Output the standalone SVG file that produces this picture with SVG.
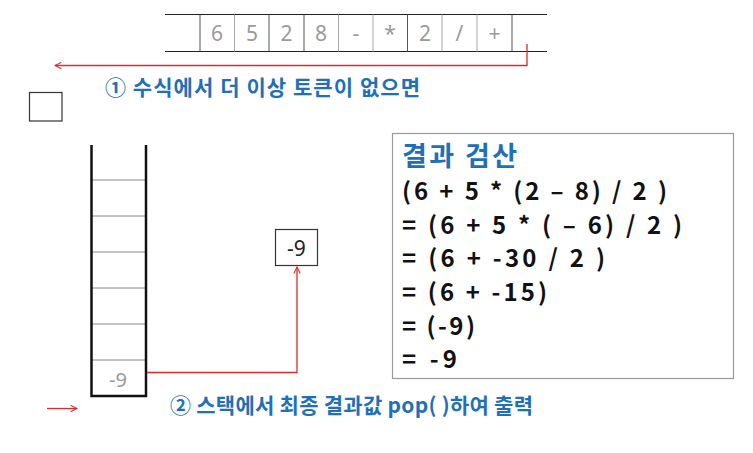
<svg xmlns="http://www.w3.org/2000/svg" width="753" height="453" viewBox="0 0 753 453">
<style>
.tok{font-family:"Noto Sans","DejaVu Sans",sans-serif;font-size:21px;fill:#9a9a9a;text-anchor:middle}
.dk{stroke:#555;stroke-width:1}
.lt{stroke:#aaa;stroke-width:1}
.blue{font-family:"Noto Sans CJK KR","Noto Sans",sans-serif;font-weight:bold;fill:#1f70b8}
.eq{font-family:"Noto Sans CJK KR","Noto Sans",sans-serif;font-weight:bold;font-size:24px;fill:#111}
.red{stroke:#e0282e;stroke-width:1.3;fill:none}
</style>
<defs>
<marker id="ah" viewBox="0 0 10 10" refX="9" refY="5" markerWidth="8" markerHeight="8" orient="auto-start-reverse" markerUnits="userSpaceOnUse">
<path d="M1,1 L9,5 L1,9" fill="none" stroke="#e0282e" stroke-width="1.3"/>
</marker>
</defs>
<rect width="753" height="453" fill="#fff"/>
<g id="tokens">
<line x1="165" y1="14.5" x2="547" y2="14.5" stroke="#222" stroke-width="1"/>
<line x1="165" y1="51.5" x2="547" y2="51.5" stroke="#222" stroke-width="1"/>
<line class="dk" x1="200" y1="14.5" x2="200" y2="51.5"/>
<line class="lt" x1="234.5" y1="14.5" x2="234.5" y2="51.5"/>
<line class="dk" x1="269" y1="14.5" x2="269" y2="51.5"/>
<line class="dk" x1="304" y1="14.5" x2="304" y2="51.5"/>
<line class="lt" x1="338.5" y1="14.5" x2="338.5" y2="51.5"/>
<line class="lt" x1="373" y1="14.5" x2="373" y2="51.5"/>
<line class="dk" x1="407.5" y1="14.5" x2="407.5" y2="51.5"/>
<line class="lt" x1="442" y1="14.5" x2="442" y2="51.5"/>
<line class="lt" x1="477" y1="14.5" x2="477" y2="51.5"/>
<line class="dk" x1="512" y1="14.5" x2="512" y2="51.5"/>
<text class="tok" x="217" y="41">6</text>
<text class="tok" x="252" y="41">5</text>
<text class="tok" x="286.5" y="41">2</text>
<text class="tok" x="321" y="41">8</text>
<text class="tok" x="356" y="41">-</text>
<text class="tok" x="390" y="41">*</text>
<text class="tok" x="425" y="41">2</text>
<text class="tok" x="459.5" y="41">/</text>
<text class="tok" x="494.5" y="41">+</text>
</g>
<g id="small-box">
<rect x="29.5" y="92.5" width="32.5" height="28.5" fill="none" stroke="#333" stroke-width="1.2"/>
</g>
<g id="stack">
<g stroke="#888" stroke-width="1">
<line x1="92" y1="180" x2="146" y2="180"/>
<line x1="92" y1="216" x2="146" y2="216"/>
<line x1="92" y1="252" x2="146" y2="252"/>
<line x1="92" y1="288" x2="146" y2="288"/>
<line x1="92" y1="324" x2="146" y2="324"/>
<line x1="92" y1="360" x2="146" y2="360"/>
</g>
<path d="M91.5,145 V396 H146 V145" fill="none" stroke="#111" stroke-width="2.5"/>
<text class="tok" x="118" y="387" style="font-size:20px">-9</text>
</g>
<g id="result-node">
<rect x="275.5" y="229.5" width="42" height="36" fill="#fff" stroke="#333" stroke-width="1.2"/>
<text x="296.5" y="256" style="font-family:'Noto Sans','DejaVu Sans',sans-serif;font-size:21px;fill:#222;text-anchor:middle">-9</text>
</g>
<g id="check-box">
<rect x="392.5" y="133.5" width="341" height="245" fill="#fff" stroke="#9a9a9a" stroke-width="1.2"/>
<text class="blue" x="402" y="166" style="font-size:27px" textLength="115" lengthAdjust="spacing">결과 검산</text>
<text class="eq" x="402" y="200" textLength="265" lengthAdjust="spacing">(6 + 5 * (2 – 8) / 2 )</text>
<text class="eq" x="402" y="234" textLength="280" lengthAdjust="spacing">= (6 + 5 * ( – 6) / 2 )</text>
<text class="eq" x="402" y="267" textLength="203" lengthAdjust="spacing">= (6 + -30 / 2 )</text>
<text class="eq" x="402" y="301" textLength="145" lengthAdjust="spacing">= (6 + -15)</text>
<text class="eq" x="402" y="335" textLength="73" lengthAdjust="spacing">= (-9)</text>
<text class="eq" x="402" y="368" textLength="55" lengthAdjust="spacing">= -9</text>
</g>
<g id="connectors">
<path class="red" d="M527,44 V65.5 H55" marker-end="url(#ah)"/>
<path class="red" d="M147,372.5 H297 V267" marker-end="url(#ah)"/>
<path class="red" d="M47,408.5 H77" marker-end="url(#ah)"/>
</g>
<g id="labels">
<text class="blue" x="105" y="95" style="font-size:21px" textLength="315" lengthAdjust="spacing">① 수식에서 더 이상 토큰이 없으면</text>
<text class="blue" x="170" y="413" style="font-size:21px" textLength="363" lengthAdjust="spacing">② 스택에서 최종 결과값 pop( )하여 출력</text>
</g>
</svg>
